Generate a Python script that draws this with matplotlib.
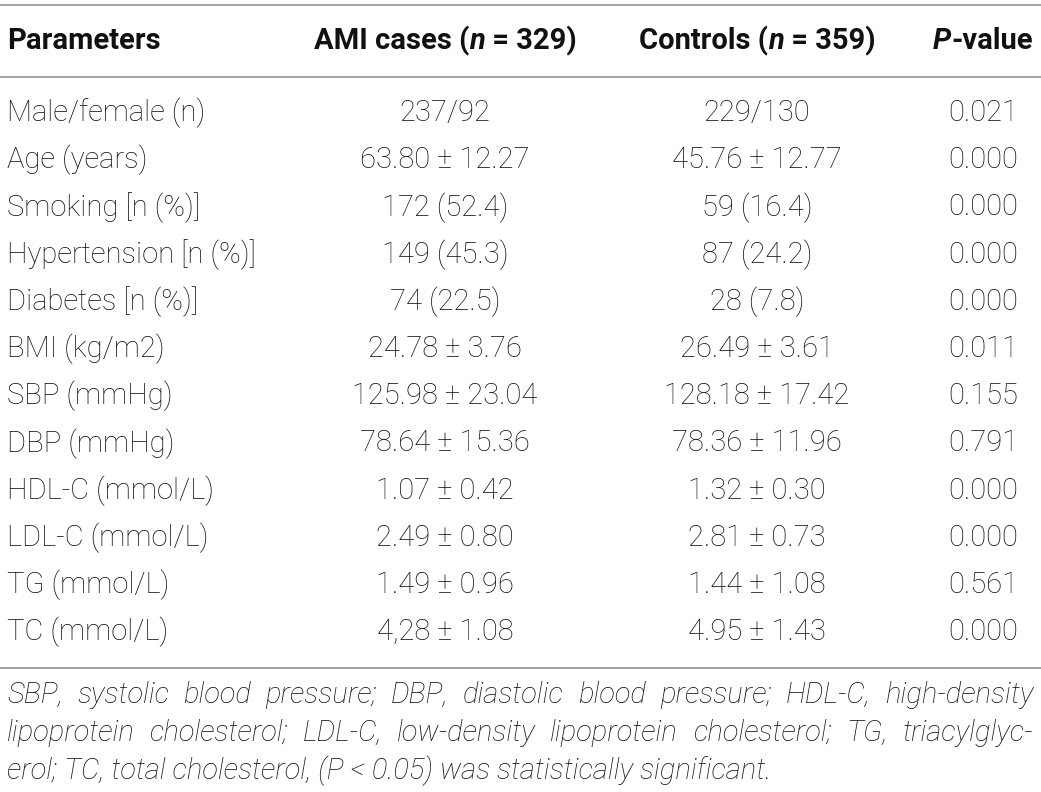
import matplotlib.pyplot as plt

# table content
parameters = ['Male/female (n)', 'Age (years)', 'Smoking [n (%)]', 'Hypertension [n (%)]',
              'Diabetes [n (%)]', 'BMI (kg/m2)', 'SBP (mmHg)', 'DBP (mmHg)',
              'HDL-C (mmol/L)', 'LDL-C (mmol/L)', 'TG (mmol/L)', 'TC (mmol/L)']
ami_cases = ['237/92', '63.80 ± 12.27', '172 (52.4)', '149 (45.3)', '74 (22.5)',
             '24.78 ± 3.76', '125.98 ± 23.04', '78.64 ± 15.36', '1.07 ± 0.42',
             '2.49 ± 0.80', '1.49 ± 0.96', '4,28 ± 1.08']
controls = ['229/130', '45.76 ± 12.77', '59 (16.4)', '87 (24.2)', '28 (7.8)',
            '26.49 ± 3.61', '128.18 ± 17.42', '78.36 ± 11.96', '1.32 ± 0.30',
            '2.81 ± 0.73', '1.44 ± 1.08', '4.95 ± 1.43']
p_values = ['0.021', '0.000', '0.000', '0.000', '0.000', '0.011', '0.155', '0.791',
            '0.000', '0.000', '0.561', '0.000']
# header pieces: (text, italic?)
headers = [[('Parameters', False)],
           [('AMI cases (', False), ('n', True), (' = 329)', False)],
           [('Controls (', False), ('n', True), (' = 359)', False)],
           [('P', True), ('-value', False)]]
footnote = ['SBP, systolic blood pressure; DBP, diastolic blood pressure; HDL-C, high-density',
            'lipoprotein cholesterol; LDL-C, low-density lipoprotein cholesterol; TG, triacylglyc-',
            'erol; TC, total cholesterol, (P < 0.05) was statistically significant.']

W, H = 1041, 792
FONT = 'Roboto'
TXT = '#111111'
LINE = '#9a9a9a'
FS = 21
BODY_WEIGHT = 'light'

fig = plt.figure(figsize=(W / 100, H / 100), dpi=100)
ax = fig.add_axes([0, 0, 1, 1])
ax.set_xlim(0, W)
ax.set_ylim(H, 0)
ax.axis('off')
fig.canvas.draw()
renderer = fig.canvas.get_renderer()

col_x = [7, 445, 757, 983]
header_y = 41
row_y0, row_step = 113, 47.2

for yy in [5, 77, 668]:
    ax.plot([0, W], [yy, yy], color=LINE, lw=1.3)


def place_pieces(pieces, x, y, align):
    '''Draws a header made of upright/italic pieces side by side'''
    arts = [ax.text(0, y, s, fontsize=FS, fontweight='bold', family=FONT, color=TXT,
                    style='italic' if it else 'normal', va='center', ha='left')
            for s, it in pieces]
    widths = [a.get_window_extent(renderer).width for a in arts]
    total = sum(widths)
    start = x if align == 'left' else x - total / 2
    for a, w in zip(arts, widths):
        a.set_x(start)
        start += w


place_pieces(headers[0], col_x[0], header_y, 'left')
for k in range(1, 4):
    place_pieces(headers[k], col_x[k], header_y, 'center')

body = dict(fontsize=FS, fontweight=BODY_WEIGHT, family=FONT, color=TXT, va='center')
for i in range(len(parameters)):
    y = row_y0 + i * row_step
    ax.text(col_x[0], y, parameters[i], ha='left', **body)
    ax.text(col_x[1], y, ami_cases[i], ha='center', **body)
    ax.text(col_x[2], y, controls[i], ha='center', **body)
    ax.text(col_x[3], y, p_values[i], ha='center', **body)

# footnote, justified except the last line
foot = dict(fontsize=FS, fontweight=BODY_WEIGHT, style='italic', family=FONT, color=TXT,
            va='baseline', ha='left')
left, right = 7, 1033
for j, line in enumerate(footnote):
    y = 703 + j * 38
    if j == len(footnote) - 1:
        ax.text(left, y, line, **foot)
        continue
    words = line.split(' ')
    arts = [ax.text(0, y, w, **foot) for w in words]
    widths = [a.get_window_extent(renderer).width for a in arts]
    gap = (right - left - sum(widths)) / (len(words) - 1)
    x = left
    for a, w in zip(arts, widths):
        a.set_x(x)
        x += w + gap

fig.savefig('out.png', dpi=100)
